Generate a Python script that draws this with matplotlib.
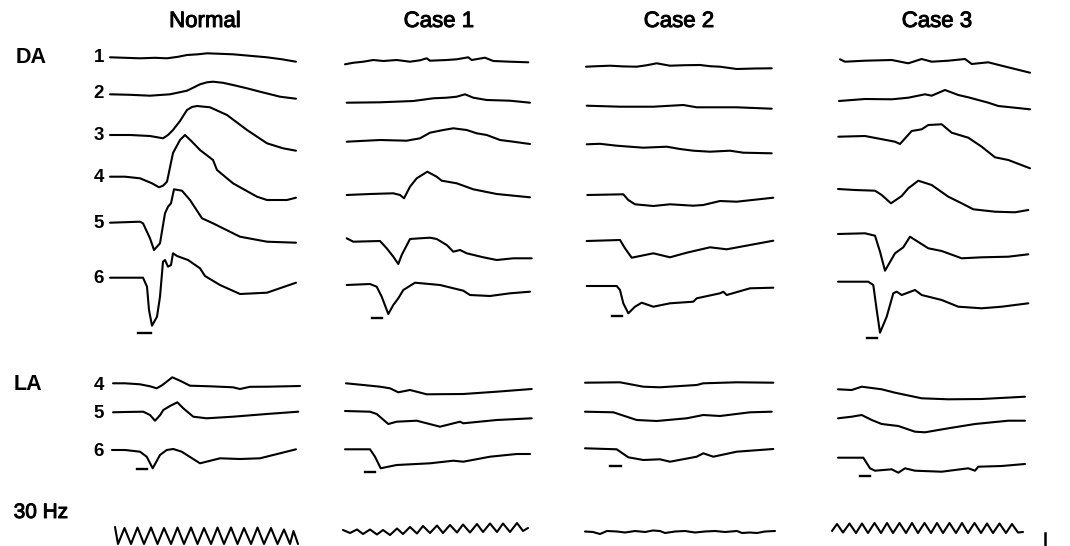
import matplotlib.pyplot as plt
import matplotlib.patheffects as pe

plt.rcParams['font.family'] = ['Liberation Sans', 'DejaVu Sans']

# sweep time (ms from trace start) and response (uV, up = positive) per trace
NORMAL = {
    'DA1': ([0, 15, 30, 45, 57, 68, 77, 88, 97, 110, 123, 140, 157, 172, 186],
            [0, -0.5, -1, -0.5, -1, 0.5, 2.3, 3, 4, 3.5, 3, 1.5, 0, -2, -4.4]),
    'DA2': ([0, 20, 40, 60, 77, 84, 90, 97, 103, 113, 123, 137, 150, 170, 186],
            [0, -0.5, -1.4, 0, 3.6, 7, 10, 12, 12.6, 11.5, 9.3, 6, 2.6, -2.4, -4.4]),
    'DA3': ([0, 20, 40, 53, 58, 63, 70, 77, 82, 87, 100, 117, 137, 157, 173, 186],
            [0, 0, -1, -3.3, 0, 5, 14, 25, 28, 29, 27.7, 20, 5, -8.3, -13.3, -15.7]),
    'DA4': ([0, 15, 30, 42, 49, 53, 57, 63, 70, 75, 82, 90, 103, 107, 123, 147, 157, 177, 186],
            [0, 0, -1.6, -6.6, -10.6, -9, -5, 23.7, 36.7, 41.7, 35, 26.7, 16.7, 6.7, -6.6, -20, -23.3, -23.3, -21]),
    'DA5': ([0, 15, 30, 33, 40, 44, 50, 55, 58, 61, 64, 72, 80, 92, 103, 130, 157, 186],
            [0, 0.5, 1, -0.6, -15.6, -27.3, -20.6, 9.4, 16, 19.4, 33.4, 32, 22.7, 4.4, -0.6, -14, -19, -20]),
    'DA6': ([0, 15, 33, 37, 39, 42, 47, 50, 53, 55, 58, 61, 63, 67, 78, 90, 95, 110, 130, 157, 186],
            [0, 0, 0, -9, -32.3, -48, -39, -19, 16, 17.7, 11, 12.7, 24.4, 21.7, 17.7, 9.4, 1.7, -7.3, -16.3, -15, -5]),
    'LA4': ([3, 15, 30, 40, 46.7, 52, 56.7, 62.3, 70, 80, 100, 123, 130, 140, 156.7, 190],
            [0, 0, -1, -3, -5, -2, 1.6, 6, 2.6, -2.4, -3, -4, -5.7, -3.5, -3.4, -2.7]),
    'LA5': ([3, 15, 33.3, 40, 45, 50, 53.3, 60, 67.3, 73.3, 83.3, 96.7, 123, 156.7, 188.3],
            [0, 0.3, 0.6, -2.7, -8.4, -3, 2.3, 6.3, 10, 4, -4.4, -6, -4.4, -1.7, 0.6]),
    'LA6': ([2, 15, 30, 36.7, 42.7, 50, 56.7, 63.3, 71.7, 90, 110, 130, 150, 170, 186],
            [0, 0, -1.7, -6.7, -18.3, -5, 0, 1, -1.7, -13.3, -8.3, -9, -8.3, -3.3, 0.7]),
    'HZ30': ([5, 8, 14.5, 21, 27.5, 34, 41, 47.5, 54, 61, 67.5, 74, 81, 87.5, 94, 101, 107.5,
              114, 121, 127.5, 134, 141, 147.5, 154, 161, 167.5, 174, 180, 183.5, 188],
             [9, -8, 8, -8, 8.5, -8, 8.5, -8, 8, -8, 8.5, -8, 8.5, -8, 8, -8, 8.5, -8, 8.5, -8,
              8, -8, 8.5, -8, 8, -8, 6.5, -8, 5, -8]),
}

CASE1 = {
    'DA1': ([0, 8, 18.3, 28.3, 38.3, 51.7, 65, 75, 81.7, 85, 101.7, 111.7, 123.3, 126.7, 140, 148.3, 165, 183.3],
            [0, 1.5, 2.6, 4.3, 3.3, 4.3, 2.6, 4, 6, 3.6, 4.3, 5, 7, 4.3, 6.6, 3.3, 2.6, 2]),
    'DA2': ([1.7, 35, 68.3, 88.3, 101.7, 111.7, 120, 128.3, 141.7, 165, 185],
            [0, 0.4, 1.7, 4.4, 5, 6, 8.4, 5, 2.7, 2, 0]),
    'DA3': ([1.7, 35, 61.7, 75, 85, 98.3, 108.3, 121.7, 131.7, 141.7, 155, 168.3, 185],
            [0, 1.7, 1, 3.4, 9, 11.7, 13.4, 11.7, 8.4, 6.7, 1.7, 0, -2.3]),
    'DA4': ([1.7, 25, 48.3, 55, 59, 65, 71.7, 82.3, 91.7, 96.7, 111.7, 128.3, 151.7, 171.7, 185],
            [0, 1, 1.7, 0, -3.3, 8.3, 16.7, 23.3, 18.3, 14.3, 11.7, 5.7, 1, -1, -2.3]),
    'DA5': ([1.7, 8.3, 35, 41.7, 48.3, 53.3, 56.7, 65, 75, 85, 91.7, 101.7, 108.3, 115, 121.7, 138.3, 151.7, 168.3, 186.7],
            [0, -3.4, -2.7, -10, -18.4, -25.7, -16.7, -0.7, 0, 0.6, -0.7, -6.7, -13.4, -11.7, -15, -19, -21.7, -20, -20]),
    'DA6': ([1.7, 25, 31.7, 36.7, 43.3, 48.3, 53.3, 58.3, 70, 95, 118.3, 125, 145, 165, 185],
            [0, 1, -1.7, -11.7, -29, -20, -13.3, -5, 2.3, 0, -5.7, -10, -11, -8.3, -6.7]),
    'LA4': ([1, 18.3, 35, 45, 53.3, 65, 81.7, 118.3, 151.7, 186.7],
            [0, -1.7, -3.4, -5, -9, -6.7, -11, -10.7, -8.4, -5.7]),
    'LA5': ([0, 25, 31.7, 43.3, 51.7, 71.7, 95, 115, 118.3, 151.7, 186.7],
            [0, -0.7, -3, -13, -10.7, -9.7, -15.7, -10.7, -12.3, -9, -7.3]),
    'LA6': ([0, 25, 30, 35.7, 43.3, 51.7, 85, 108.3, 118.3, 145, 171.7, 185],
            [0, 0, -7.4, -19, -17.4, -15.7, -14, -11.4, -12.4, -7.4, -4.7, -4.7]),
    'HZ30': ([-2, 5, 12, 18, 25, 32, 38, 45, 52, 58, 65, 72, 78, 85, 92, 98, 105, 112, 118,
              125, 132, 138, 145, 152, 158, 165, 172, 178, 183],
             [1, -2, 1.5, -3, 1.5, -3.5, 1, -4, 2.5, -3, 4, -2.5, 5, -2, 5.5, -2, 6, -1.5, 6.5,
              -1.5, 7, -1, 7.5, -1, 7.5, -1, 8, 0, 3]),
}

CASE2 = {
    'DA1': ([1, 12, 25, 38, 51.7, 62, 71.7, 85, 100, 115, 125, 135, 151.7, 170, 186.7],
            [0, 0.5, 1, 0.3, 0, 1.5, 3.4, 1, 1.5, 1.7, 0.5, 0, -2.3, -1.8, -1.6]),
    'DA2': ([1.7, 35, 68.3, 98.3, 111.7, 151.7, 186.7],
            [0, -1, -1, 0.7, -1.6, -1.6, -3]),
    'DA3': ([1.7, 15, 31.7, 58.3, 81.7, 95, 108.3, 125, 145, 158.3, 186.7],
            [0, 0.5, -1.4, -3.4, -2.4, -4.7, -6.4, -7.4, -6.4, -8.4, -9]),
    'DA4': ([2.3, 38.3, 43.3, 50, 68.3, 85, 108.3, 118.3, 135, 151.7, 188.3],
            [0, 0.7, -5, -9.3, -11, -9.3, -10.7, -10, -6, -6.7, -2.7]),
    'DA5': ([1.7, 35, 40, 46.7, 68.3, 85, 101.7, 125, 141.7, 188.3],
            [0, 1, -7.3, -16.7, -12.3, -16.3, -11.7, -6.3, -8.3, 0.3]),
    'DA6': ([1.7, 31.7, 35, 38.3, 43.3, 50, 56.7, 68.3, 85, 108.3, 111.7, 135, 138.3, 141.7, 165, 188.3],
            [0, 0, -4, -17.3, -27.3, -20.7, -16.7, -20.7, -17.3, -15.7, -12.3, -7.3, -5.7, -9, -2.3, -1.7]),
    'LA4': ([0, 35, 58.3, 75, 111.7, 118.3, 151.7, 188.3],
            [0, 0.4, -4, -4.6, -2.3, -0.6, 0.4, 0]),
    'LA5': ([0, 28.3, 51.7, 71.7, 101.7, 118.3, 135, 165, 186.7],
            [0, -0.6, -8.3, -9.3, -6.6, -3.3, -4.3, -0.6, 0]),
    'LA6': ([0, 31.7, 43.3, 58.3, 75, 85, 111.7, 118.3, 128.3, 151.7, 188.3],
            [0, -1, -9, -11.7, -11, -13.4, -8.4, -5, -8.4, -3.4, -0.7]),
    'HZ30': ([0, 8, 15, 22, 32, 40, 50, 60, 68, 75, 80, 90, 100, 110, 120, 130, 140, 152,
              157, 165, 172, 180, 190],
             [0, -0.5, -2.5, 0.5, 0, -1, 0.5, -0.5, 1, 0.5, -1.5, 0, 0.5, -1, 0, 0.5, -0.5, 0.5,
              -1.5, -1, -1.5, 0, 0.5]),
}

CASE3 = {
    'DA1': ([2, 7, 27, 53.7, 70.3, 83.7, 93.7, 110.3, 127, 133.7, 150.3, 163.7, 177, 192],
            [0, -2.4, -1.4, -0.7, -4, 0.3, -2.4, -1.4, 0.3, -4.7, -3, -6.4, -9.7, -13.4]),
    'DA2': ([1, 27, 53.7, 70.3, 87, 93.7, 107, 120.3, 130.3, 150.3, 160.3, 192],
            [0, 2, 1.7, 3.3, 6.7, 5.3, 11, 6, 3.7, -1.7, -5, -8.3]),
    'DA3': ([0.3, 27, 57, 62, 73.7, 83.7, 90.3, 103.7, 113.7, 130.3, 143.7, 157, 170.3, 192],
            [0, 0.7, -5, -7.3, 5.7, 7.4, 11.7, 12.4, 4, -1, -10, -20.6, -23.3, -31.6]),
    'DA4': ([0, 17, 37, 43.7, 53, 63.7, 70.3, 80.3, 93.7, 110.3, 123.7, 135.3, 157, 177, 190.3],
            [0, -1, -1.7, -6, -14.3, -7, 0.7, 8.3, 4, -7.7, -14.3, -20.3, -22.7, -23.3, -21]),
    'DA5': ([0, 27, 37, 42, 47, 57, 65.3, 72, 90.3, 103.7, 123.7, 143.7, 170.3, 190.3],
            [0, 0.7, -1.7, -17.7, -36.7, -19.3, -13.3, -2.7, -14.3, -17, -24.3, -23.3, -22.7, -20.3]),
    'DA6': ([0, 30.3, 35.3, 38.7, 42, 48.7, 55.3, 58.7, 63.7, 77, 83.7, 103.7, 120.3, 143.7, 163.7, 190.3],
            [0, 0, -3.3, -28.3, -51, -35, -11.6, -10, -13.3, -8.3, -13.3, -18.3, -25, -26.6, -25, -21.6]),
    'LA4': ([0, 13.7, 23.7, 43.7, 57, 83.7, 110.3, 143.7, 187],
            [0, -0.7, 2.6, 0, -3.4, -9, -10, -9.7, -7.4]),
    'LA5': ([0, 13.7, 23.7, 33.7, 43.7, 60.3, 77, 87, 110.3, 137, 170.3, 187],
            [0, 1.6, 3.3, -1.7, -5.7, -7.7, -13.4, -14, -10, -5.7, -2.4, -2.4]),
    'LA6': ([0, 25.3, 32, 37, 53.7, 60.3, 67, 77, 103.7, 130.3, 137, 140.3, 163.7, 187],
            [0, 0, -10.6, -13, -11.6, -15, -10.6, -13, -14, -10.6, -13, -9, -8.3, -6.3]),
    'HZ30': ([-6, -1, 5, 11.5, 18, 24, 30, 36.5, 43, 49, 55, 61.5, 68, 74, 80, 86.5, 93, 99,
              105, 111.5, 118, 124, 130, 136.5, 143, 149, 155, 161.5, 168, 174, 180, 185],
             [-3, 4, -4.5, 4.5, -5, 4.5, -5, 5, -5, 5, -5, 5, -5, 5, -5, 5, -5, 5, -5, 5, -5, 5,
              -5, 5, -5, 4.5, -5, 4.5, -5, 4, -4.5, -4]),
}

# flash marker under DA6 and LA6: (onset, offset) in ms, depth below baseline
FLASH = {
    'Normal': [('DA6', 28, 41, 55.6), ('LA6', 26.7, 36.7, 19)],
    'Case 1': [('DA6', 26.7, 36.7, 32.7), ('LA6', 20, 30, 22.4)],
    'Case 2': [('DA6', 26.7, 36.7, 30), ('LA6', 25, 35.7, 17.4)],
    'Case 3': [('DA6', 28.7, 38.7, 56.6), ('LA6', 22, 32, 18.3)],
}

COLUMNS = ['Normal', 'Case 1', 'Case 2', 'Case 3']
TRACES = [NORMAL, CASE1, CASE2, CASE3]
ROWS = ['DA1', 'DA2', 'DA3', 'DA4', 'DA5', 'DA6', 'LA4', 'LA5', 'LA6', 'HZ30']

# layout (pixels)
col_x0 = [110, 345, 585, 838]
col_title_x = [205, 439, 679, 937]
row_base = [
    [57.3, 94.3, 135, 176.7, 222.7, 277.7, 383.3, 412.3, 450, 536],
    [64.3, 102.7, 141.7, 195, 238.3, 285, 383.3, 411, 449.3, 531],
    [66.7, 105.7, 144.3, 195, 241, 286, 382.7, 411.7, 448.3, 531.5],
    [59.3, 101, 136.7, 189, 234, 281.7, 389.3, 418.3, 457.7, 528],
]

# slightly heavier than regular weight, like the printed labels
medium = [pe.withStroke(linewidth=0.7, foreground='black')]

fig = plt.figure(figsize=(10.7, 5.46), dpi=100)
ax = fig.add_axes([0, 0, 1, 1])
ax.set_xlim(0, 1070)
ax.set_ylim(546, 0)
ax.axis('off')

for c, name in enumerate(COLUMNS):
    tr = TRACES[c]
    for r, key in enumerate(ROWS):
        t, v = tr[key]
        xs = [col_x0[c] + ti for ti in t]
        ys = [row_base[c][r] - vi for vi in v]
        ax.plot(xs, ys, color='black', lw=1.5, solid_joinstyle='round',
                solid_capstyle='round')
    for key, t0, t1, depth in FLASH[name]:
        yb = row_base[c][ROWS.index(key)] + depth
        ax.plot([col_x0[c] + t0, col_x0[c] + t1], [yb, yb], color='black', lw=1.7)
    ax.text(col_title_x[c], 21.5, name, ha='center', va='center', fontsize=16,
            path_effects=medium)

# row labels
ax.text(31, 57.5, 'DA', ha='center', va='center', fontsize=15.5, fontweight='bold')
ax.text(28, 384, 'LA', ha='center', va='center', fontsize=15.5, fontweight='bold')
ax.text(41, 512.5, '30 Hz', ha='center', va='center', fontsize=15, path_effects=medium)
num_labels = ['1', '2', '3', '4', '5', '6', '4', '5', '6']
num_y = [57, 94, 136, 177.5, 223.3, 278.3, 385, 414, 451]
for lab, y in zip(num_labels, num_y):
    ax.text(104, y, lab, ha='right', va='center', fontsize=13.5, fontweight='bold')

# amplitude calibration bar
ax.plot([1045, 1045], [533, 546], color='black', lw=1.8)

fig.savefig('out.png', dpi=100)
